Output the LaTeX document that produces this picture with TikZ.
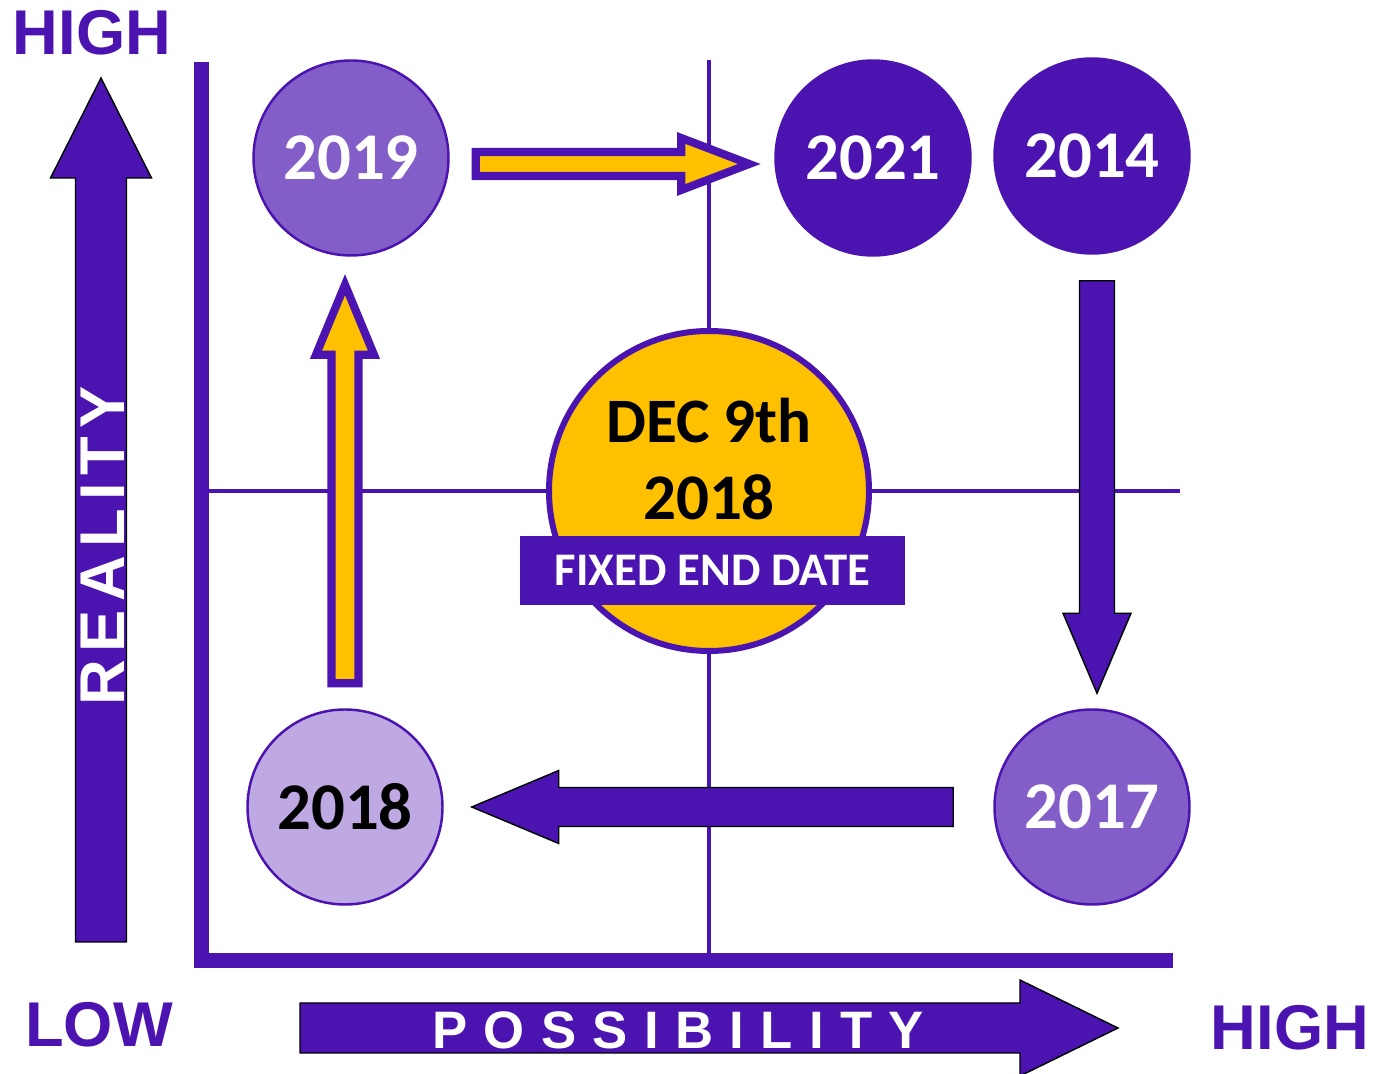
\documentclass[tikz,border=0pt]{standalone}
\usepackage{fontspec}
\setmainfont{Carlito}
\newfontfamily\axisfont{Liberation Sans}
\usetikzlibrary{calc,positioning}
\definecolor{rpurple}{HTML}{4B13B0}
\definecolor{rmid}{HTML}{835EC8}
\definecolor{rlight}{HTML}{BEA9E3}
\definecolor{ryellow}{HTML}{FFC000}
\tikzset{
  year/.style={circle, draw=rpurple, line width=0.7pt, minimum size=1.95cm, inner sep=0pt,
    text=white, font=\bfseries\fontsize{19}{23}\selectfont},
  axislabel/.style={text=rpurple, font=\axisfont\bfseries\fontsize{18}{20}\selectfont},
  gridline/.style={rpurple, line width=0.9pt},
  axisline/.style={rpurple, line width=0.15cm},
  hollowarrow/.style={draw=rpurple, fill=ryellow, line width=2.3pt},
  solidarrow/.style={fill=rpurple},
}
% block arrow: [style]{from}{to}{shaft half width}{head half width}{head length}
\newcommand{\blockarrow}[6][]{%
  \path (#2) coordinate (ba-s) (#3) coordinate (ba-e);
  \path ($(ba-e)!#6!(ba-s)$) coordinate (ba-h);
  \draw[#1] ($(ba-s)!#4!90:(ba-e)$) -- ($(ba-h)!#4!-90:(ba-s)$) -- ($(ba-h)!#5!-90:(ba-s)$)
    -- (ba-e) -- ($(ba-h)!#5!90:(ba-s)$) -- ($(ba-h)!#4!90:(ba-s)$) -- ($(ba-s)!#4!-90:(ba-e)$) -- cycle;
}
\begin{document}
\begin{tikzpicture}
  \useasboundingbox (0,0) rectangle (13.74,10.74);
  \draw[gridline] (7.09,10.14) -- (7.09,1.21);
  \draw[gridline] (2.09,5.83) -- (11.80,5.83);
  \draw[axisline] (2.01,10.12) -- (2.01,1.06);
  \draw[axisline] (1.97,1.13) -- (11.73,1.13);

  \node[year, fill=rmid] (c2019) at (3.51,9.16) {2019};
  \node[year, fill=rpurple] (c2021) at (8.73,9.16) {2021};
  \node[year, fill=rpurple] (c2014) at (10.92,9.18) {2014};
  \node[year, fill=rlight, text=black] (c2018) at (3.45,2.67) {2018};
  \node[year, fill=rmid] (c2017) at (10.92,2.67) {2017};

  \node[circle, draw=rpurple, fill=ryellow, line width=0.06cm, minimum size=3.2cm] (deadline) at (7.09,5.83) {};
  \node[font=\bfseries\fontsize{18}{22}\selectfont] (dec) at (7.09,6.53) {DEC 9th};
  \node[font=\bfseries\fontsize{18.5}{22}\selectfont] (year) at (7.09,5.77) {2018};
  \node[fill=rpurple, text=white, minimum width=3.85cm, minimum height=0.69cm, inner sep=0pt,
    font=\bfseries\fontsize{13.3}{16}\selectfont] (fixed) at (7.125,5.035) {FIXED END DATE};

  \blockarrow[hollowarrow]{$(c2018.north)+(0,0.25)$}{$(c2019.south)+(-0.06,-0.28)$}{0.135cm}{0.29cm}{0.70cm}
  \blockarrow[hollowarrow]{$(c2019.east)+(0.26,-0.06)$}{$(c2021.west)+(-0.25,-0.06)$}{0.12cm}{0.26cm}{0.68cm}
  \blockarrow[solidarrow]{$(c2014.south)+(0.05,-0.26)$}{$(c2017.north)+(0.05,0.15)$}{0.175cm}{0.34cm}{0.80cm}
  \blockarrow[solidarrow]{$(c2017.west)+(-0.40,0)$}{$(c2018.east)+(0.28,0)$}{0.195cm}{0.365cm}{0.87cm}

  \coordinate (realbot) at (1.01,1.32);
  \coordinate (realtop) at (1.01,9.96);
  \coordinate (possleft) at (3.00,0.46);
  \coordinate (possright) at (11.18,0.46);
  \blockarrow[solidarrow]{realbot}{realtop}{0.255cm}{0.505cm}{1.00cm}
  \blockarrow[solidarrow]{possleft}{possright}{0.25cm}{0.48cm}{0.98cm}

  \node[text=white, rotate=90, font=\axisfont\bfseries\fontsize{18}{20}\selectfont\addfontfeature{LetterSpace=13}] (reality) at (1.03,5.28) {REALITY};
  \node[text=white, font=\axisfont\bfseries\fontsize{15}{18}\selectfont\addfontfeature{LetterSpace=31}] (possibility) at (6.78,0.44) {POSSIBILITY};
  \node[axislabel] (hightop) at (0.92,10.41) {HIGH};
  \node[axislabel] (low) at (0.99,0.49) {LOW};
  \node[axislabel] (highright) at (12.90,0.46) {HIGH};
\end{tikzpicture}
\end{document}
